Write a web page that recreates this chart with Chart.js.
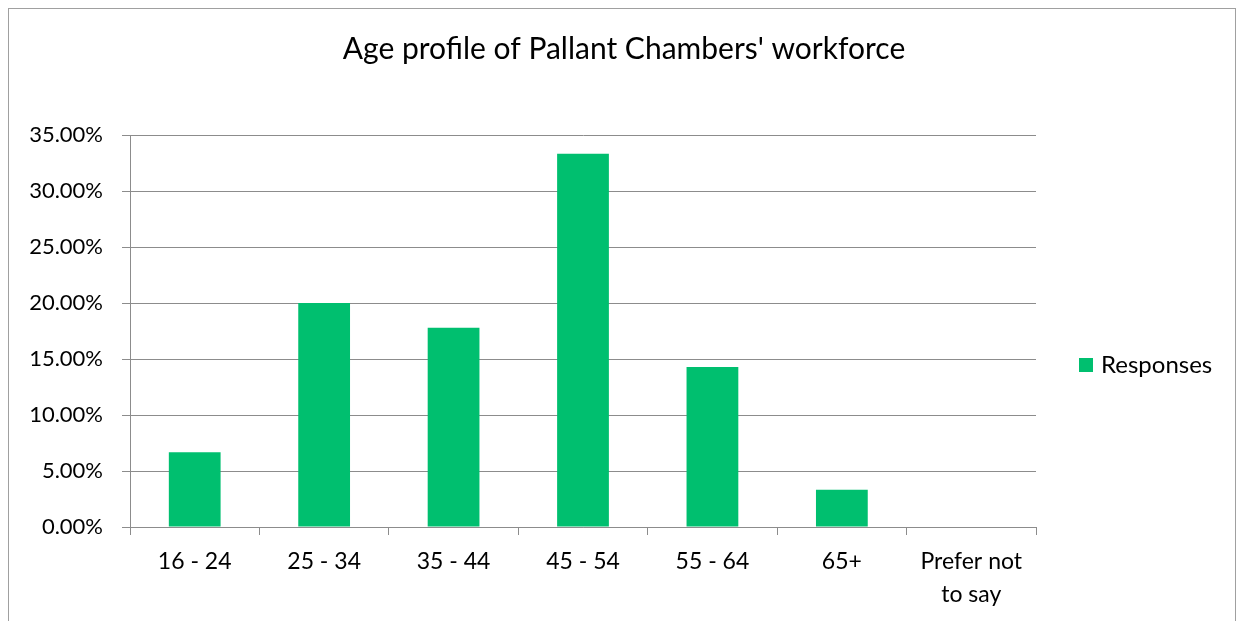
<!DOCTYPE html>
<html>
<head>
<meta charset="utf-8">
<script src="https://cdn.jsdelivr.net/npm/chart.js@4.4.1/dist/chart.umd.min.js"></script>
<style>
  html, body { margin: 0; padding: 0; background: #ffffff; }
  #c { display: block; }
</style>
</head>
<body>
<canvas id="c" width="1241" height="621"></canvas>
<script>
const titleText = "Age profile of Pallant Chambers' workforce";
const categories = ['16 - 24', '25 - 34', '35 - 44', '45 - 54', '55 - 64', '65+', ['Prefer not', 'to say']];
const seriesName = 'Responses';
const responses = [6.67, 20.00, 17.78, 33.33, 14.29, 3.33, 0];
const yTicks = [0, 5, 10, 15, 20, 25, 30, 35];

const FONT = 'Lato, "Open Sans", "DejaVu Sans", sans-serif';
const GREEN = '#00BF6F';
const GRID = '#8c8c8c';

const framePlugin = {
  id: 'frame',
  beforeDraw(chart) {
    const ctx = chart.ctx;
    ctx.save();
    ctx.fillStyle = '#ffffff';
    ctx.fillRect(0, 0, chart.width, chart.height);
    ctx.strokeStyle = '#a0a0a0';
    ctx.lineWidth = 1;
    ctx.strokeRect(8.5, 8.5, 1227, 700);
    ctx.restore();
  }
};

// centre the title over the whole chart frame rather than the plot-plus-padding region
const titleCenterPlugin = {
  id: 'titleCenter',
  afterLayout(chart) {
    const t = chart.titleBlock;
    if (t) { t.left = 8; t.right = 1240; t.width = t.right - t.left; }
  }
};

const legendPlugin = {
  id: 'customLegend',
  afterDraw(chart) {
    const ctx = chart.ctx;
    const ds = chart.data.datasets[0];
    ctx.save();
    ctx.fillStyle = ds.backgroundColor;
    ctx.fillRect(1079, 358, 14, 14);
    ctx.fillStyle = '#000000';
    ctx.font = '24px ' + FONT;
    ctx.textBaseline = 'middle';
    ctx.textAlign = 'left';
    ctx.fillText(ds.label, 1101, 365);
    ctx.restore();
  }
};

new Chart(document.getElementById('c'), {
  type: 'bar',
  data: {
    labels: categories,
    datasets: [{
      label: seriesName,
      data: responses,
      backgroundColor: GREEN,
      borderWidth: 0,
      categoryPercentage: 1.0,
      barPercentage: 0.4
    }]
  },
  options: {
    responsive: false,
    devicePixelRatio: 1,
    animation: false,
    layout: { padding: { left: 0, right: 205, top: 0, bottom: 0 } },
    plugins: {
      legend: { display: false },
      tooltip: { enabled: false },
      title: {
        display: true,
        text: titleText,
        color: '#000000',
        font: { family: FONT, size: 30, weight: 'normal', lineHeight: 1.2 },
        padding: { top: 31, bottom: 68 }
      }
    },
    scales: {
      x: {
        afterFit(s) { s.height = 94; },
        grid: { display: true, drawOnChartArea: false, drawTicks: true, tickLength: 8, color: GRID, offset: true },
        border: { display: true, color: GRID, width: 1 },
        ticks: { color: '#000000', font: { family: FONT, size: 23, lineHeight: 1.43 }, padding: 10, maxRotation: 0, autoSkip: false }
      },
      y: {
        min: 0,
        max: 35,
        afterFit(s) { s.width = 130; },
        afterBuildTicks(s) { s.ticks = yTicks.map(v => ({ value: v })); },
        grid: { display: true, drawOnChartArea: true, drawTicks: true, tickLength: 8, color: GRID, lineWidth: 1 },
        border: { display: true, color: GRID, width: 1 },
        ticks: {
          color: '#000000',
          font: { family: FONT, size: 22 },
          padding: 19,
          callback: (v) => Number(v).toFixed(2) + '%'
        }
      }
    }
  },
  plugins: [framePlugin, titleCenterPlugin, legendPlugin]
});
</script>
</body>
</html>
